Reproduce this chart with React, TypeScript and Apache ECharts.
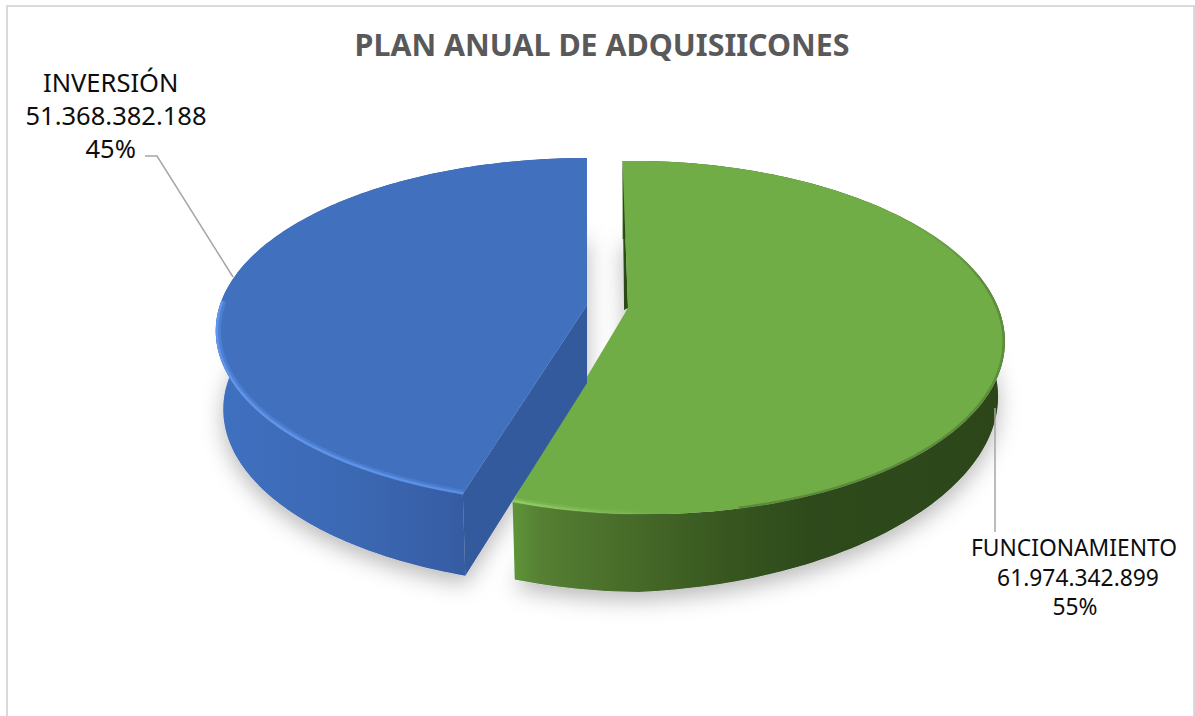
import React, { useEffect, useRef } from "react";
import * as echarts from "echarts";

const titleText = "PLAN ANUAL DE ADQUISIICONES";
const categories = ["FUNCIONAMIENTO", "INVERSIÓN"];
const amounts = [61974342899, 51368382188];

const total = amounts.reduce((a, b) => a + b, 0);
const fmt = (v: number) => String(v).replace(/\B(?=(\d{3})+(?!\d))/g, ".");
const pct = (v: number) => Math.round((v / total) * 100) + "%";

const FONT = "'Noto Sans', Tahoma, sans-serif";
const TAU = Math.PI * 2;

// angular extent of each slice, clockwise from 12 o'clock
const spans = amounts.map((_, i) => {
  const before = amounts.slice(0, i).reduce((a, b) => a + b, 0);
  return [(before / total) * TAU, ((before + amounts[i]) / total) * TAU];
});

type Geo = {
  x0: number; off: number; cy: number; rx: number; ry: number;
  k: number; m: number; depth: number; tilt: number; baseRx: number; baseRy: number;
};
const geos: Geo[] = [
  { x0: 590, off: 38, cy: 308, rx: 358, ry: 171.6, k: 0.167, m: 0.03, depth: 78, tilt: 0.3, baseRx: 0.982, baseRy: 1.0 },
  { x0: 587, off: 0, cy: 305, rx: 367, ry: 169, k: 0.15, m: 0, depth: 78, tilt: 0, baseRx: 0.98, baseRy: 1.02 },
];

const project = (g: Geo, t: number, base = false, f = 1): number[] => {
  const u = Math.sin(t) * f;
  const v = -Math.cos(t) * f;
  const d = 1 - g.k * v - g.m * u;
  const rx = base ? g.rx * g.baseRx : g.rx;
  const ry = base ? g.ry * g.baseRy : g.ry;
  const drop = base ? g.depth * (1 - g.tilt * Math.max(u, 0)) : 0;
  return [g.x0 + (g.off + rx * u) / d, g.cy + (ry * v) / d + drop];
};

const arc = (g: Geo, a: number, b: number, base = false, f = 1) => {
  const pts: number[][] = [];
  const n = 160;
  for (let i = 0; i <= n; i++) pts.push(project(g, a + ((b - a) * i) / n, base, f));
  return pts;
};

const hGrad = (stops: [number, string][]) =>
  new echarts.graphic.LinearGradient(0, 0, 1, 0, stops.map(([offset, color]) => ({ offset, color })));

const skins = [
  {
    top: "#70ad47",
    wall: hGrad([
      [0, "#5f9439"],
      [0.06, "#557f33"],
      [0.2, "#4a6f2b"],
      [0.42, "#385820"],
      [0.6, "#2e4a1b"],
      [1, "#2c461a"],
    ]),
    face: "#2c4a19",
    rim: hGrad([
      [0, "rgba(146,204,100,0.95)"],
      [0.12, "rgba(140,198,95,0.6)"],
      [0.3, "rgba(130,190,90,0)"],
      [1, "rgba(130,190,90,0)"],
    ]),
  },
  {
    top: "#4170bf",
    wall: hGrad([
      [0, "#3f70c0"],
      [0.35, "#3c69b4"],
      [0.75, "#34599f"],
      [0.97, "#2f5393"],
      [1, "#3a63ad"],
    ]),
    face: "#345a9e",
    rim: hGrad([
      [0, "rgba(96,150,236,0.95)"],
      [0.8, "rgba(92,146,232,0.9)"],
      [1, "rgba(92,146,232,0.7)"],
    ]),
  },
];

const rimSpans = [
  [spans[0][1], spans[0][1] - 1.9],
  [spans[1][0], spans[1][0] + 1.3],
];

const shadowItem = (params: any, api: any) => {
  const i = params.dataIndex;
  api.value(0);
  const [a, b] = spans[i];
  const g = geos[i];
  const pts = [...arc(g, a, b, true), [g.x0 + g.off, g.cy + g.depth]];
  return {
    type: "polygon",
    silent: true,
    shape: { points: pts },
    style: {
      fill: "#cfcfcf",
      shadowBlur: 22,
      shadowColor: "rgba(0,0,0,0.28)",
      shadowOffsetX: 0,
      shadowOffsetY: 8,
    },
  };
};

const bodyItem = (params: any, api: any) => {
  const i = params.dataIndex;
  api.value(0);
  const [a, b] = spans[i];
  const g = geos[i];
  const s = skins[i];
  const vertex = [g.x0 + g.off, g.cy];
  const topArc = arc(g, a, b);
  const baseArc = arc(g, a, b, true);
  const children: any[] = [];

  // outer wall
  children.push({
    type: "polygon",
    shape: { points: [...topArc, ...[...baseArc].reverse()] },
    style: { fill: s.wall },
  });

  // cut face
  const c = project(g, a);
  if (i === 1) {
    const cb = project(g, a, true);
    children.push({
      type: "polygon",
      shape: { points: [vertex, c, cb, [vertex[0], vertex[1] + g.depth]] },
      style: { fill: s.face },
    });
  } else {
    children.push({
      type: "polygon",
      shape: { points: [c, [c[0] + 1.5, vertex[1] + 2], vertex] },
      style: { fill: s.face },
    });
  }

  // top face
  children.push({
    type: "polygon",
    shape: { points: [vertex, ...topArc] },
    style: { fill: s.top },
  });

  // bevel highlight
  const [ra, rb] = rimSpans[i];
  const lo = Math.min(ra, rb);
  const hi = Math.max(ra, rb);
  children.push({
    type: "polyline",
    shape: { points: arc(g, lo, hi, false, 0.993) },
    style: { stroke: s.rim, lineWidth: 5, opacity: 0.4, fill: "none" },
  });
  children.push({
    type: "polyline",
    shape: { points: arc(g, lo, hi, false, 0.997) },
    style: { stroke: s.rim, lineWidth: 2.5, fill: "none" },
  });
  if (i === 0) {
    // soft dark edge on the shaded right of the rim
    children.push({
      type: "polyline",
      shape: { points: arc(g, 0.95, 2.9, false, 0.997) },
      style: {
        stroke: new echarts.graphic.LinearGradient(0, 0, 0, 1, [
          { offset: 0, color: "rgba(70,105,42,0)" },
          { offset: 0.25, color: "rgba(70,105,42,0.45)" },
          { offset: 1, color: "rgba(70,105,42,0.5)" },
        ]),
        lineWidth: 2.5,
        fill: "none",
      },
    });
  }

  return { type: "group", silent: true, children };
};

const labelText = (x: number, y: number, text: string, size: number) => ({
  type: "text",
  x,
  y,
  silent: true,
  style: { text, fill: "#0d0d0d", font: `${size}px ${FONT}`, textAlign: "center", textVerticalAlign: "middle" },
});

export default function App() {
  const ref = useRef<HTMLDivElement>(null);
  useEffect(() => {
    if (!ref.current) return;
    const chart = echarts.init(ref.current, null, { renderer: "svg" });
    const data = categories.map((name, i) => ({ name, value: [amounts[i]] }));
    chart.setOption({
      animation: false,
      backgroundColor: "#ffffff",
      title: {
        text: titleText,
        left: 597,
        top: 24,
        textAlign: "center",
        textStyle: { fontFamily: FONT, fontWeight: "bold", fontSize: 30.4, color: "#595959" },
      },
      series: [
        { type: "custom", coordinateSystem: "none", silent: true, data, renderItem: shadowItem, z: 1 },
        { type: "custom", coordinateSystem: "none", silent: true, data, renderItem: bodyItem, z: 2 },
      ],
      graphic: {
        elements: [
          {
            type: "rect",
            silent: true,
            z: -1,
            shape: { x: 7, y: 6, width: 1187, height: 720 },
            style: { fill: "none", stroke: "#d9d9d9", lineWidth: 2 },
          },
          {
            type: "polyline",
            silent: true,
            z: 5,
            shape: { points: [[145, 156], [157, 156], [233, 277]] },
            style: { fill: "none", stroke: "#a6a6a6", lineWidth: 1.5 },
          },
          {
            type: "line",
            silent: true,
            z: 5,
            shape: { x1: 995, y1: 408, x2: 995, y2: 532 },
            style: { stroke: "#a6a6a6", lineWidth: 1.5 },
          },
          labelText(110.7, 82, categories[1], 25.5),
          labelText(116, 115, fmt(amounts[1]), 25.5),
          labelText(110.7, 148, pct(amounts[1]), 25.5),
          labelText(1074, 547, categories[0], 22.8),
          labelText(1078, 577, fmt(amounts[0]), 22.8),
          labelText(1075, 606, pct(amounts[0]), 22.8),
        ],
      },
    });
    return () => chart.dispose();
  }, []);
  return <div ref={ref} style={{ position: "fixed", left: 0, top: 0, width: 1195, height: 716 }} />;
}
